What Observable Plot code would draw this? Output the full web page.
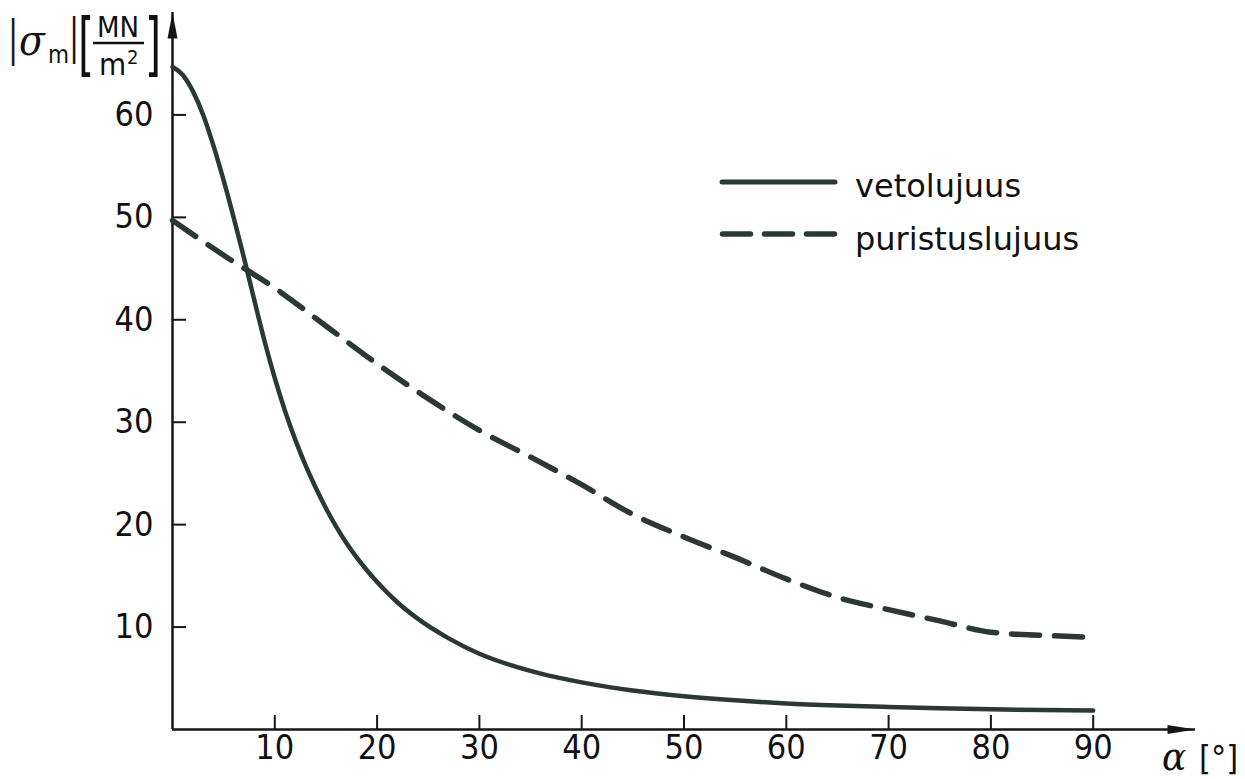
<!DOCTYPE html>
<html><head><meta charset="utf-8">
<script src="https://cdn.jsdelivr.net/npm/d3@7"></script>
<script src="https://cdn.jsdelivr.net/npm/@observablehq/plot@0.6"></script>
<style>
html,body{margin:0;padding:0;background:#fff;}
</style>
</head><body><div id="chart"></div>
<script>
// ---- data ----
const seriesNames = ["vetolujuus", "puristuslujuus"];
const tensileAlpha = [0, 1, 2, 3, 4, 5, 6, 7, 8, 9, 10, 11, 12, 13, 14, 15, 16, 17, 18, 19, 20, 22, 24, 27, 30, 33, 36, 40, 45, 50, 55, 60, 65, 70, 75, 80, 85, 90];
const tensileSigma = [64.7, 63.9, 62.3, 60.0, 57.0, 53.6, 49.9, 46.0, 41.9, 37.9, 34.3, 31.1, 28.3, 25.8, 23.6, 21.6, 19.8, 18.2, 16.8, 15.55, 14.4, 12.4, 10.8, 8.9, 7.4, 6.3, 5.45, 4.6, 3.8, 3.25, 2.85, 2.55, 2.35, 2.2, 2.07, 1.97, 1.9, 1.85];
const compAlpha = [0, 5, 10, 15, 20, 25, 30, 35, 40, 45, 50, 55, 60, 65, 70, 75, 80, 85, 90];
const compSigma = [49.7, 46.3, 43.1, 39.4, 35.7, 32.3, 29.2, 26.6, 23.9, 21.0, 18.8, 16.8, 14.7, 12.9, 11.7, 10.6, 9.5, 9.2, 9.0];
const xTicks = [10, 20, 30, 40, 50, 60, 70, 80, 90];
const yTicks = [10, 20, 30, 40, 50, 60];
const xDomain = [0, 100];
const yDomain = [0, 70];

const tensile = tensileAlpha.map((a, i) => ({alpha: a, sigma: tensileSigma[i], series: seriesNames[0]}));
const compressive = compAlpha.map((a, i) => ({alpha: a, sigma: compSigma[i], series: seriesNames[1]}));

const W = 1245, H = 779, mL = 172, mR = 50, mT = 12, mB = 50;
const frameW = W - mL - mR, frameH = H - mT - mB;
const lineColor = "#2b3936";
const axisColor = "#161616";
const font = "'DejaVu Sans Condensed', 'DejaVu Sans', sans-serif";
const fontWide = "'DejaVu Sans', sans-serif";

const arrowRight = {draw(ctx) { ctx.moveTo(0, 0); ctx.lineTo(-28, -4.5); ctx.lineTo(-28, 4.5); ctx.closePath(); }};
const arrowUp = {draw(ctx) { ctx.moveTo(0, 0); ctx.lineTo(-5, 26); ctx.lineTo(5, 26); ctx.closePath(); }};

const plot = Plot.plot({
  width: W, height: H,
  marginLeft: mL, marginRight: mR, marginTop: mT, marginBottom: mB,
  x: {domain: xDomain, axis: null},
  y: {domain: yDomain, axis: null},
  style: {fontFamily: font, background: "#fff", color: "#111", fontStretch: "condensed"},
  marks: [
    Plot.ruleY([yDomain[0]], {stroke: axisColor, strokeWidth: 2.5}),
    Plot.ruleX([xDomain[0]], {stroke: axisColor, strokeWidth: 2.5}),
    Plot.dot([{x: xDomain[1], y: yDomain[0]}], {x: "x", y: "y", symbol: arrowRight, fill: axisColor, stroke: "none", r: 5}),
    Plot.dot([{x: xDomain[0], y: yDomain[1]}], {x: "x", y: "y", symbol: arrowUp, fill: axisColor, stroke: "none", r: 5}),
    Plot.tickX(xTicks, {x: d => d, insetTop: frameH - 14, stroke: axisColor, strokeWidth: 2}),
    Plot.tickY(yTicks, {y: d => d, insetRight: frameW - 14, stroke: axisColor, strokeWidth: 2}),
    Plot.text(xTicks, {x: d => d, frameAnchor: "bottom", dy: 29, text: d => String(d), fontSize: 34, fill: "#111"}),
    Plot.text(yTicks, {y: d => d, frameAnchor: "left", dx: -19, textAnchor: "end", text: d => String(d), fontSize: 34, fill: "#111"}),
    Plot.line(tensile, {x: "alpha", y: "sigma", curve: "monotone-x", stroke: lineColor, strokeWidth: 4.5, strokeLinecap: "round"}),
    Plot.line(compressive, {x: "alpha", y: "sigma", curve: "monotone-x", stroke: lineColor, strokeWidth: 5.5, strokeLinecap: "round", strokeDasharray: "28,15"})
  ]
});
document.getElementById("chart").appendChild(plot);

const svg = d3.select(plot);
// legend
const lg = svg.append("g").attr("text-anchor", "start").attr("font-family", fontWide).attr("font-stretch", "normal");
lg.append("line").attr("x1", 722).attr("x2", 835).attr("y1", 182).attr("y2", 182)
  .attr("stroke", lineColor).attr("stroke-width", 5).attr("stroke-linecap", "round");
lg.append("line").attr("x1", 722.5).attr("x2", 835).attr("y1", 234).attr("y2", 234)
  .attr("stroke", lineColor).attr("stroke-width", 5.5).attr("stroke-linecap", "round").attr("stroke-dasharray", "28,14");
lg.append("text").attr("x", 855).attr("y", 197).attr("font-size", 32).attr("fill", "#111").text(seriesNames[0]);
lg.append("text").attr("x", 855).attr("y", 250).attr("font-size", 32).attr("fill", "#111").text(seriesNames[1]);

// x-axis label
const xl = svg.append("g").attr("fill", "#111").attr("text-anchor", "start").attr("font-family", font);
xl.append("text").attr("x", 1162).attr("y", 770).attr("font-size", 40).attr("font-family", "'DejaVu Serif', serif").attr("font-style", "italic").text("α");
xl.append("text").attr("x", 1199).attr("y", 770).attr("font-size", 34).text("[°]");

// y-axis label |σm| [MN/m²]
const yl = svg.append("g").attr("fill", "#111").attr("text-anchor", "start").attr("font-family", font);
yl.append("text").attr("transform", "translate(13,66) scale(1,1.5)").attr("y", -7.5).attr("font-size", 32).attr("text-anchor", "middle").text("|");
yl.append("text").attr("x", 19).attr("y", 55).attr("font-size", 42).attr("font-family", "'DejaVu Serif', serif").attr("font-style", "italic").text("σ");
yl.append("text").attr("x", 48).attr("y", 63).attr("font-size", 24).text("m");
yl.append("text").attr("transform", "translate(74,64) scale(1,1.5)").attr("y", -7.5).attr("font-size", 32).attr("text-anchor", "middle").text("|");
yl.append("text").attr("transform", "translate(86,77) scale(1,1.5)").attr("y", -6).attr("font-size", 46).attr("text-anchor", "middle").text("[");
yl.append("text").attr("x", 118).attr("y", 37).attr("font-size", 29).attr("text-anchor", "middle").text("MN");
yl.append("line").attr("x1", 93).attr("x2", 144).attr("y1", 43).attr("y2", 43).attr("stroke", "#111").attr("stroke-width", 2.5);
yl.append("text").attr("x", 99).attr("y", 75).attr("font-size", 31).text("m");
yl.append("text").attr("x", 127).attr("y", 64).attr("font-size", 20).text("2");
yl.append("text").attr("transform", "translate(153,77) scale(1,1.5)").attr("y", -6).attr("font-size", 46).attr("text-anchor", "middle").text("]");
</script>
</body></html>
